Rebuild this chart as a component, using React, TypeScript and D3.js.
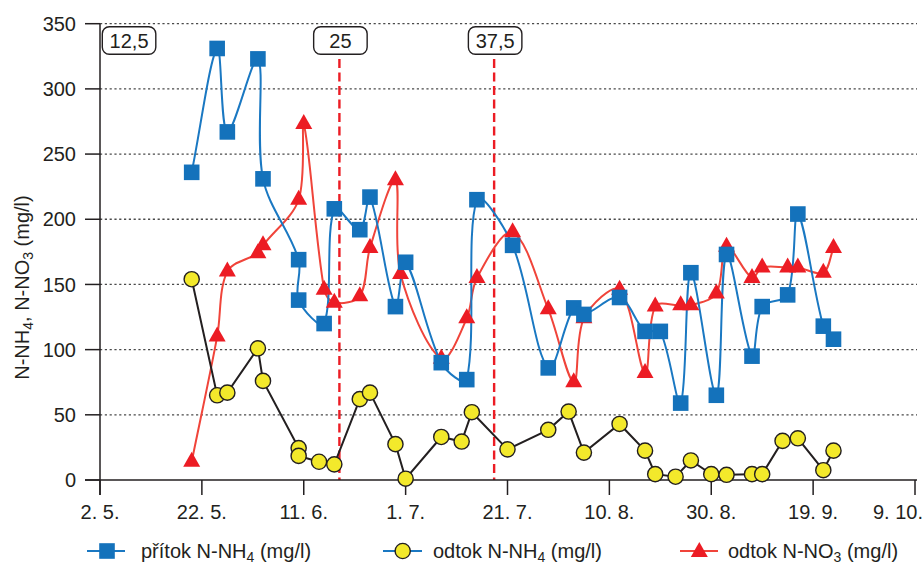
import React from "react";
import * as d3 from "d3";

// ---- data -------------------------------------------------------------
const inflowNH4Dates = [
  "2015-05-20", "2015-05-25", "2015-05-27", "2015-06-02", "2015-06-03",
  "2015-06-10", "2015-06-10", "2015-06-15", "2015-06-17", "2015-06-22",
  "2015-06-24", "2015-06-29", "2015-07-01", "2015-07-08", "2015-07-13",
  "2015-07-15", "2015-07-22", "2015-07-29", "2015-08-03", "2015-08-05",
  "2015-08-12", "2015-08-17", "2015-08-20", "2015-08-24", "2015-08-26",
  "2015-08-31", "2015-09-02", "2015-09-07", "2015-09-09", "2015-09-14",
  "2015-09-16", "2015-09-21", "2015-09-23",
];
const inflowNH4Values = [
  236, 331, 267, 323, 231, 169, 138, 120, 208, 192, 217, 133, 167, 90, 77,
  215, 180, 86, 132, 127, 140, 114, 114, 59, 159, 65, 173, 95, 133, 142, 204,
  118, 108,
];

const outflowNH4Dates = [
  "2015-05-20", "2015-05-25", "2015-05-27", "2015-06-02", "2015-06-03",
  "2015-06-10", "2015-06-10", "2015-06-14", "2015-06-17", "2015-06-22",
  "2015-06-24", "2015-06-29", "2015-07-01", "2015-07-08", "2015-07-12",
  "2015-07-14", "2015-07-21", "2015-07-29", "2015-08-02", "2015-08-05",
  "2015-08-12", "2015-08-17", "2015-08-19", "2015-08-23", "2015-08-26",
  "2015-08-30", "2015-09-02", "2015-09-07", "2015-09-09", "2015-09-13",
  "2015-09-16", "2015-09-21", "2015-09-23",
];
const outflowNH4Values = [
  154, 65, 67, 101, 76, 24.5, 18.5, 14, 12, 62, 67, 27.5, 1, 33, 29.5, 52,
  23.5, 38.5, 52.5, 21, 43, 22.5, 4.5, 2.5, 15, 4.5, 4, 4.5, 4.5, 30, 32, 7.5,
  22.5,
];

const outflowNO3Dates = [
  "2015-05-20", "2015-05-25", "2015-05-27", "2015-06-02", "2015-06-03",
  "2015-06-10", "2015-06-11", "2015-06-15", "2015-06-17", "2015-06-22",
  "2015-06-24", "2015-06-29", "2015-06-30", "2015-07-08", "2015-07-13",
  "2015-07-15", "2015-07-22", "2015-07-29", "2015-08-03", "2015-08-05",
  "2015-08-12", "2015-08-17", "2015-08-19", "2015-08-24", "2015-08-26",
  "2015-08-31", "2015-09-02", "2015-09-07", "2015-09-09", "2015-09-14",
  "2015-09-16", "2015-09-21", "2015-09-23",
];
const outflowNO3Values = [
  14, 110, 160, 174, 180, 215, 273, 146, 136, 141, 178, 230, 158, 93, 124,
  155, 190, 131, 75, 124, 146, 82, 133, 134, 134, 143, 179, 155, 163, 163,
  163, 159, 178,
];

// loading steps (label, start time); the first one starts with the record
const doseLabels = ["12,5", "25", "37,5"];
const doseDates = ["2015-05-02T00:00", "2015-06-18T00:00", "2015-07-18T09:00"];

const xTickDates = [
  "2015-05-02", "2015-05-22", "2015-06-11", "2015-07-01", "2015-07-21",
  "2015-08-10", "2015-08-30", "2015-09-19", "2015-10-09",
];
const yTickValues = [0, 50, 100, 150, 200, 250, 300, 350];

// ---- styling ----------------------------------------------------------
const W = 924;
const H = 565;
const FONT = "'Liberation Sans', Arial, Helvetica, sans-serif";
const INK = "#231f20";
const BLUE = "#1472bb";
const BLUE_LINE = "#1a78c2";
const RED = "#ec1c24";
const RED_LINE = "#f0443a";
const YELLOW = "#f3e92b";

const parse = d3.timeParse("%Y-%m-%d");
const parseTime = d3.timeParse("%Y-%m-%dT%H:%M");
const fmtTick = d3.timeFormat("%-d. %-m.");

type Pt = { d: Date; v: number };
type XY = [number, number];
const zip = (ds: string[], vs: number[]): Pt[] =>
  ds.map((s, i) => ({ d: parse(s) as Date, v: vs[i] }));

// Smoothed polyline: cubic Béziers whose tangents follow the neighbouring
// points, weighted by segment lengths so short segments don't overshoot.
function smoothPath(pts: XY[], t = 1 / 3): string {
  const p = d3.path();
  if (!pts.length) return "";
  p.moveTo(pts[0][0], pts[0][1]);
  const dist = (a: XY, b: XY) => Math.hypot(b[0] - a[0], b[1] - a[1]);
  for (let i = 0; i < pts.length - 1; i++) {
    const p0 = pts[i - 1] ?? pts[i];
    const p1 = pts[i];
    const p2 = pts[i + 1];
    const p3 = pts[i + 2] ?? pts[i + 1];
    const d01 = dist(p0, p1);
    const d12 = dist(p1, p2);
    const d23 = dist(p2, p3);
    const w1 = d01 + d12 > 0 ? d12 / (d01 + d12) : 0;
    const w2 = d12 + d23 > 0 ? d12 / (d12 + d23) : 0;
    const c1x = p1[0] + t * w1 * (p2[0] - p0[0]);
    const c1y = p1[1] + t * w1 * (p2[1] - p0[1]);
    const c2x = p2[0] - t * w2 * (p3[0] - p1[0]);
    const c2y = p2[1] - t * w2 * (p3[1] - p1[1]);
    p.bezierCurveTo(c1x, c1y, c2x, c2y, p2[0], p2[1]);
  }
  return p.toString();
}

const trianglePath = "M0,-10L8.5,5L-8.5,5Z";

function Square({ cx, cy }: { cx: number; cy: number }) {
  return <rect x={cx - 7.8} y={cy - 7.8} width={15.6} height={15.6} fill={BLUE} />;
}
function Circle({ cx, cy }: { cx: number; cy: number }) {
  return <circle cx={cx} cy={cy} r={7.6} fill={YELLOW} stroke={INK} strokeWidth={1.4} />;
}
function Triangle({ cx, cy }: { cx: number; cy: number }) {
  return <path d={trianglePath} transform={`translate(${cx},${cy})`} fill={RED} />;
}

function Chem({ base, sub, tail }: { base: string; sub: string; tail: string }) {
  return (
    <>
      <tspan>{base}</tspan>
      <tspan dy={4} fontSize={14}>{sub}</tspan>
      <tspan dy={-4}>{tail}</tspan>
    </>
  );
}

export default function App() {
  const x = d3
    .scaleTime()
    .domain([parse("2015-05-02") as Date, parse("2015-10-09") as Date])
    .range([100, 915]);
  const y = d3.scaleLinear().domain([0, 350]).range([480, 23.7]);

  const left = x.range()[0];
  const right = x.range()[1] + 2;
  const bottom = y(0);

  const inflow = zip(inflowNH4Dates, inflowNH4Values);
  const outNH4 = zip(outflowNH4Dates, outflowNH4Values);
  const outNO3 = zip(outflowNO3Dates, outflowNO3Values);

  const toXY = (s: Pt[]): XY[] => s.map((p) => [x(p.d), y(p.v)]);
  const straight = d3
    .line<Pt>()
    .x((p) => x(p.d))
    .y((p) => y(p.v));

  const legendY = 551;

  return (
    <svg
      width={W}
      height={H}
      viewBox={`0 0 ${W} ${H}`}
      style={{ position: "absolute", left: 0, top: 0, background: "#fff" }}
      fontFamily={FONT}
    >
      <rect width={W} height={H} fill="#fff" />

      {/* horizontal grid + y ticks */}
      {yTickValues.map((t) => (
        <g key={t}>
          {t > 0 && (
            <line
              x1={left}
              x2={right}
              y1={y(t)}
              y2={y(t)}
              stroke="#4a4a4a"
              strokeWidth={1.3}
              strokeDasharray="2.2,2.6"
            />
          )}
          <line x1={left - 15} x2={left} y1={y(t)} y2={y(t)} stroke={INK} strokeWidth={1.5} />
          <text
            x={left - 24}
            y={y(t)}
            dy="0.36em"
            textAnchor="end"
            fontSize={20}
            fill={INK}
          >
            {t}
          </text>
        </g>
      ))}

      {/* loading step markers */}
      {doseDates.map((s, i) => {
        const xd = x(parseTime(s) as Date);
        const boxW = 53.5;
        const bx = i === 0 ? xd + 2.3 : xd - boxW / 2 + 1;
        return (
          <g key={s}>
            {i > 0 && (
              <line
                x1={xd}
                x2={xd}
                y1={59}
                y2={bottom}
                stroke={RED}
                strokeWidth={2.4}
                strokeDasharray="9,4.5"
              />
            )}
            <rect
              x={bx}
              y={26.7}
              width={boxW}
              height={27.6}
              rx={7}
              fill="#fff"
              stroke={INK}
              strokeWidth={1.4}
            />
            <text x={bx + boxW / 2} y={48.2} textAnchor="middle" fontSize={20} fill={INK}>
              {doseLabels[i]}
            </text>
          </g>
        );
      })}

      {/* axes */}
      <line x1={left} x2={left} y1={y(350)} y2={bottom + 15} stroke={INK} strokeWidth={1.5} />
      <line x1={left - 15} x2={right} y1={bottom} y2={bottom} stroke={INK} strokeWidth={1.5} />
      {xTickDates.map((s, i) => {
        const xd = x(parse(s) as Date);
        const last = i === xTickDates.length - 1;
        return (
          <g key={s}>
            <line x1={xd} x2={xd} y1={bottom} y2={bottom + 15} stroke={INK} strokeWidth={1.5} />
            <text
              x={last ? W - 1 : xd}
              y={519}
              textAnchor={last ? "end" : "middle"}
              fontSize={20}
              fill={INK}
            >
              {fmtTick(parse(s) as Date)}
            </text>
          </g>
        );
      })}

      {/* y axis title */}
      <text
        transform="translate(29,287.5) rotate(-90)"
        textAnchor="middle"
        fontSize={20}
        fill={INK}
      >
        <Chem base="N-NH" sub="4" tail=", N-NO" />
        <tspan dy={4} fontSize={14}>3</tspan>
        <tspan dy={-4}> (mg/l)</tspan>
      </text>

      {/* series lines */}
      <path d={smoothPath(toXY(outNO3))} fill="none" stroke={RED_LINE} strokeWidth={2} />
      <path d={smoothPath(toXY(inflow))} fill="none" stroke={BLUE_LINE} strokeWidth={2} />
      <path d={straight(outNH4) || ""} fill="none" stroke={INK} strokeWidth={2} />

      {/* markers */}
      {outNO3.map((p, i) => (
        <Triangle key={`t${i}`} cx={x(p.d)} cy={y(p.v)} />
      ))}
      {inflow.map((p, i) => (
        <Square key={`s${i}`} cx={x(p.d)} cy={y(p.v)} />
      ))}
      {outNH4.map((p, i) => (
        <Circle key={`c${i}`} cx={x(p.d)} cy={y(p.v)} />
      ))}

      {/* legend */}
      <g>
        <line x1={87} x2={125} y1={legendY} y2={legendY} stroke={BLUE_LINE} strokeWidth={2} />
        <Square cx={107} cy={legendY} />
        <text x={141} y={legendY + 7.3} fontSize={20} fill={INK}>
          <Chem base="přítok N-NH" sub="4" tail=" (mg/l)" />
        </text>

        <line x1={383} x2={422} y1={legendY} y2={legendY} stroke={BLUE_LINE} strokeWidth={2} />
        <Circle cx={402.7} cy={legendY} />
        <text x={433} y={legendY + 7.3} fontSize={20} fill={INK}>
          <Chem base="odtok N-NH" sub="4" tail=" (mg/l)" />
        </text>

        <line x1={680} x2={718} y1={legendY} y2={legendY} stroke={RED_LINE} strokeWidth={2} />
        <Triangle cx={699.3} cy={legendY + 1} />
        <text x={728} y={legendY + 7.3} fontSize={20} fill={INK}>
          <Chem base="odtok N-NO" sub="3" tail=" (mg/l)" />
        </text>
      </g>
    </svg>
  );
}
